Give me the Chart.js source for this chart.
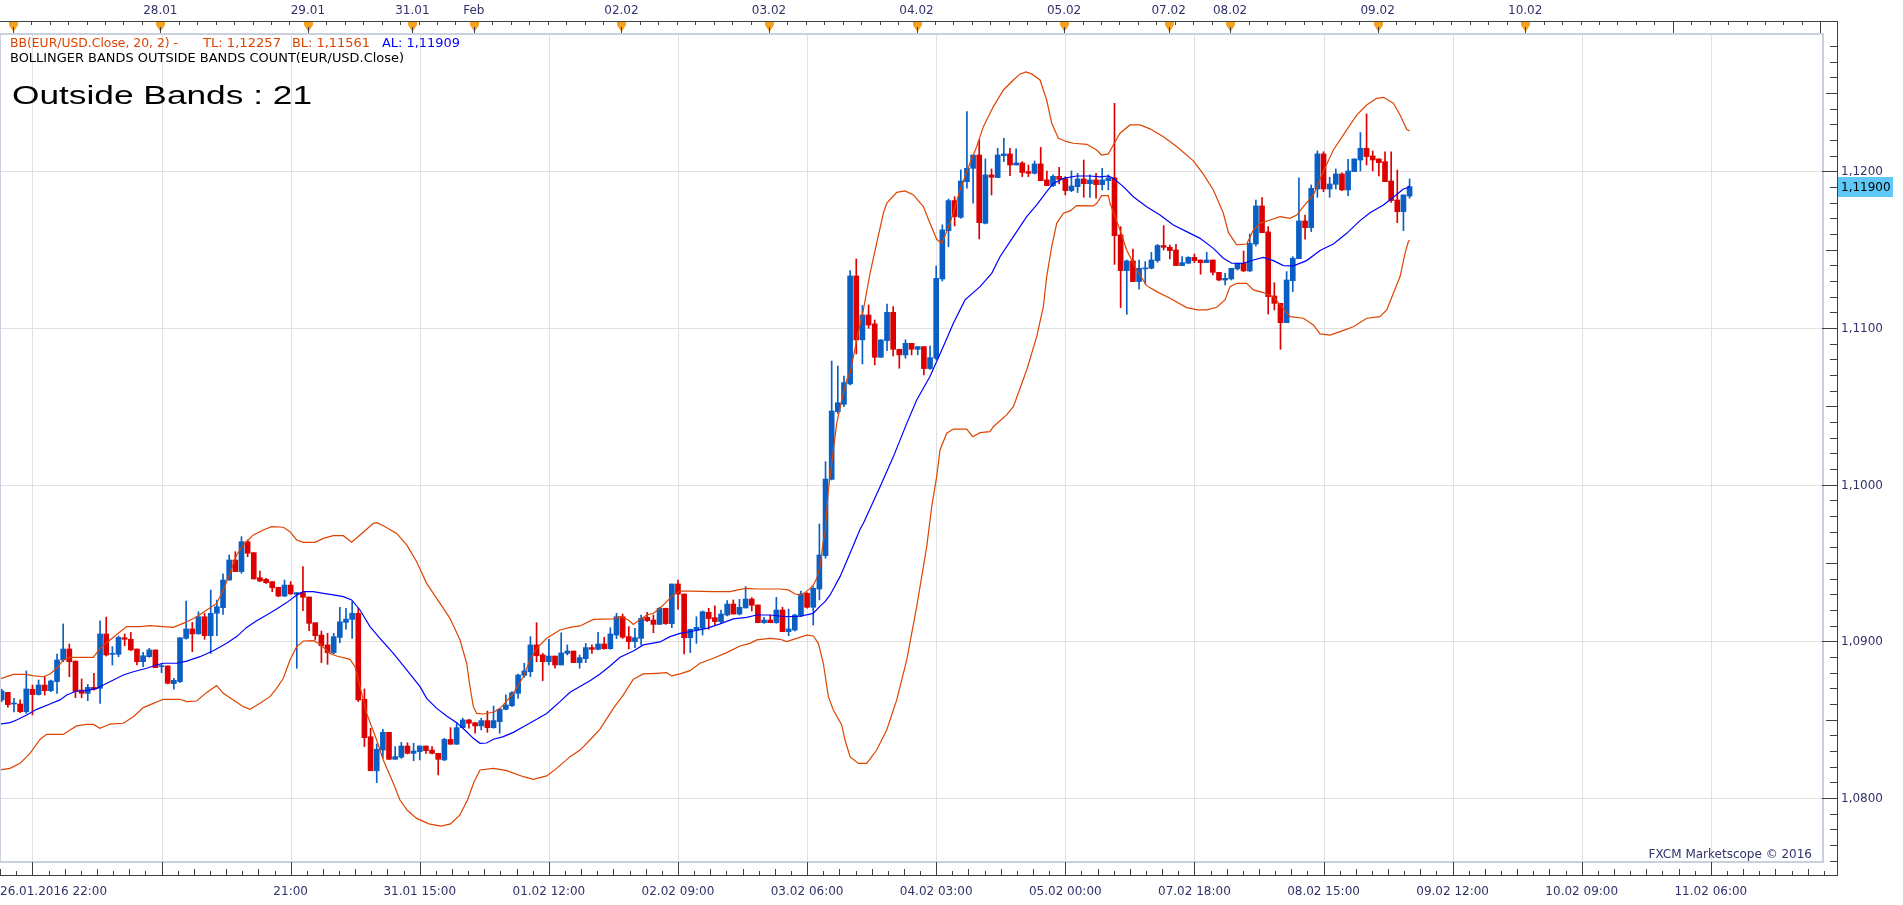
<!DOCTYPE html>
<html><head><meta charset="utf-8">
<script src="https://cdn.jsdelivr.net/npm/chart.js@4.4.1/dist/chart.umd.min.js"></script>
<style>html,body{margin:0;padding:0;background:#fff;overflow:hidden}canvas{display:block}</style>
</head><body>
<canvas id="c" width="1903" height="905"></canvas>
<script>
// ---- data (hourly EUR/USD candles, index = bar number) ----
const opens=[1.08626,1.08674,1.08600,1.08600,1.08551,1.08694,1.08660,1.08721,1.08685,1.08743,1.08881,1.08951,1.08874,1.08689,1.08668,1.08706,1.08700,1.09047,1.08917,1.08917,1.09023,1.09013,1.08951,1.08870,1.08902,1.08945,1.08838,1.08843,1.08730,1.08743,1.09019,1.09079,1.09047,1.09157,1.09036,1.09179,1.09215,1.09391,1.09519,1.09445,1.09636,1.09566,1.09406,1.09396,1.09381,1.09345,1.09289,1.09359,1.09300,1.09311,1.09283,1.09119,1.09040,1.08977,1.08928,1.09025,1.09121,1.09140,1.09179,1.08630,1.08391,1.08174,1.08306,1.08419,1.08247,1.08260,1.08332,1.08285,1.08296,1.08332,1.08306,1.08285,1.08243,1.08374,1.08343,1.08449,1.08498,1.08481,1.08460,1.08494,1.08449,1.08487,1.08566,1.08589,1.08668,1.08783,1.08806,1.08977,1.08913,1.08870,1.08906,1.08849,1.08923,1.08938,1.08864,1.08889,1.08960,1.08949,1.08983,1.08953,1.09040,1.09157,1.09030,1.08998,1.09019,1.09153,1.09136,1.09108,1.09211,1.09113,1.09366,1.09302,1.09023,1.09072,1.09083,1.09185,1.09151,1.09126,1.09168,1.09238,1.09174,1.09213,1.09270,1.09232,1.09119,1.09136,1.09119,1.09200,1.09062,1.09072,1.09162,1.09306,1.09217,1.09334,1.09547,1.10034,1.10466,1.10513,1.10643,1.11332,1.10924,1.11083,1.11026,1.10813,1.10919,1.11100,1.10864,1.10828,1.10902,1.10864,1.10881,1.10741,1.10807,1.11313,1.11621,1.11813,1.11706,1.11934,1.12019,1.12104,1.11668,1.11977,1.11960,1.12100,1.12111,1.12040,1.12053,1.11998,1.11987,1.12047,1.11945,1.11909,1.11968,1.11953,1.11877,1.11902,1.11951,1.11921,1.11945,1.11915,1.11940,1.11958,1.11594,1.11366,1.11428,1.11296,1.11377,1.11381,1.11430,1.11526,1.11515,1.11498,1.11398,1.11413,1.11451,1.11434,1.11417,1.11434,1.11355,1.11306,1.11313,1.11377,1.11413,1.11364,1.11536,1.11779,1.11613,1.11204,1.11157,1.11034,1.11302,1.11442,1.11683,1.11640,1.11887,1.12111,1.11887,1.11917,1.11983,1.11881,1.11998,1.12072,1.12147,1.12098,1.12079,1.12062,1.11938,1.11817,1.11742,1.11842];
const highs=[1.08694,1.08674,1.08636,1.08626,1.08811,1.08721,1.08753,1.08774,1.08753,1.08919,1.09111,1.08983,1.08874,1.08760,1.08725,1.08796,1.09130,1.09155,1.08966,1.09034,1.09047,1.09057,1.08951,1.08930,1.08955,1.08945,1.08860,1.08843,1.08764,1.09023,1.09257,1.09121,1.09189,1.09179,1.09328,1.09264,1.09430,1.09551,1.09572,1.09668,1.09647,1.09566,1.09449,1.09402,1.09381,1.09345,1.09391,1.09381,1.09311,1.09477,1.09283,1.09119,1.09066,1.09051,1.09051,1.09217,1.09211,1.09253,1.09211,1.08696,1.08445,1.08345,1.08438,1.08419,1.08328,1.08355,1.08353,1.08349,1.08332,1.08332,1.08328,1.08285,1.08381,1.08449,1.08481,1.08509,1.08502,1.08481,1.08509,1.08555,1.08587,1.08572,1.08658,1.08679,1.08791,1.08860,1.09030,1.09119,1.08923,1.09013,1.08906,1.09055,1.08977,1.08938,1.08913,1.08987,1.08977,1.09057,1.09026,1.09087,1.09179,1.09174,1.09094,1.09083,1.09168,1.09185,1.09168,1.09217,1.09211,1.09366,1.09391,1.09302,1.09077,1.09157,1.09194,1.09211,1.09226,1.09200,1.09260,1.09264,1.09268,1.09349,1.09279,1.09232,1.09153,1.09168,1.09281,1.09217,1.09206,1.09172,1.09321,1.09311,1.09349,1.09749,1.10147,1.10789,1.10757,1.10693,1.11366,1.11441,1.11143,1.11147,1.11051,1.10924,1.11153,1.11136,1.10864,1.10924,1.10902,1.10881,1.10881,1.10885,1.11396,1.11658,1.11823,1.11838,1.12009,1.12381,1.12104,1.12200,1.12079,1.12015,1.12147,1.12211,1.12147,1.12143,1.12062,1.12040,1.12066,1.12153,1.12002,1.11977,1.12026,1.11966,1.12002,1.11987,1.12072,1.11977,1.11987,1.12019,1.11977,1.12434,1.11647,1.11434,1.11504,1.11434,1.11424,1.11483,1.11534,1.11653,1.11530,1.11534,1.11455,1.11455,1.11472,1.11434,1.11483,1.11434,1.11355,1.11349,1.11381,1.11413,1.11491,1.11600,1.11817,1.11832,1.11647,1.11289,1.11157,1.11360,1.11455,1.11959,1.11721,1.11913,1.12130,1.12125,1.11962,1.12015,1.11991,1.12076,1.12079,1.12247,1.12366,1.12130,1.12079,1.12125,1.12125,1.12008,1.11849,1.11951];
const lows=[1.08615,1.08579,1.08549,1.08545,1.08540,1.08530,1.08657,1.08657,1.08679,1.08668,1.08870,1.08774,1.08640,1.08640,1.08621,1.08689,1.08604,1.08906,1.08849,1.08902,1.08972,1.08940,1.08849,1.08838,1.08898,1.08832,1.08800,1.08728,1.08694,1.08736,1.09013,1.08934,1.09047,1.09013,1.08923,1.09036,1.09172,1.09391,1.09445,1.09434,1.09540,1.09398,1.09381,1.09370,1.09317,1.09285,1.09285,1.09300,1.08828,1.09196,1.09068,1.09008,1.08864,1.08853,1.08921,1.08991,1.09077,1.09019,1.08615,1.08328,1.08174,1.08098,1.08253,1.08247,1.08247,1.08253,1.08281,1.08238,1.08243,1.08285,1.08281,1.08147,1.08238,1.08343,1.08343,1.08449,1.08445,1.08413,1.08434,1.08419,1.08445,1.08413,1.08562,1.08583,1.08636,1.08770,1.08774,1.08870,1.08749,1.08849,1.08828,1.08849,1.08913,1.08864,1.08828,1.08864,1.08923,1.08945,1.08949,1.08949,1.09017,1.09019,1.08951,1.08960,1.08977,1.09126,1.09055,1.09108,1.09108,1.09087,1.09204,1.08919,1.08928,1.08987,1.09040,1.09077,1.09104,1.09115,1.09162,1.09174,1.09168,1.09213,1.09194,1.09119,1.09115,1.09119,1.09115,1.09062,1.09036,1.09066,1.09157,1.09211,1.09104,1.09264,1.09530,1.10030,1.10455,1.10498,1.10636,1.10834,1.10770,1.10998,1.10764,1.10813,1.10855,1.10821,1.10743,1.10807,1.10828,1.10828,1.10700,1.10736,1.10796,1.11300,1.11519,1.11651,1.11700,1.11892,1.11796,1.11568,1.11664,1.11849,1.11960,1.12062,1.11972,1.12040,1.11966,1.11966,1.11983,1.11940,1.11909,1.11902,1.11919,1.11849,1.11870,1.11864,1.11834,1.11834,1.11828,1.11881,1.11881,1.11406,1.11130,1.11087,1.11296,1.11247,1.11281,1.11377,1.11419,1.11498,1.11441,1.11398,1.11398,1.11413,1.11417,1.11343,1.11417,1.11338,1.11302,1.11275,1.11306,1.11370,1.11360,1.11360,1.11523,1.11608,1.11089,1.11115,1.10864,1.11034,1.11232,1.11442,1.11566,1.11615,1.11834,1.11870,1.11834,1.11887,1.11877,1.11845,1.11998,1.12002,1.12040,1.12002,1.11970,1.11934,1.11802,1.11672,1.11621,1.11828];
const closes=[1.08683,1.08596,1.08604,1.08551,1.08696,1.08660,1.08721,1.08685,1.08747,1.08881,1.08951,1.08870,1.08679,1.08668,1.08706,1.08694,1.09047,1.08913,1.08923,1.09025,1.09013,1.08945,1.08870,1.08908,1.08945,1.08832,1.08843,1.08732,1.08751,1.09023,1.09079,1.09047,1.09157,1.09036,1.09179,1.09221,1.09391,1.09519,1.09445,1.09636,1.09562,1.09398,1.09385,1.09374,1.09342,1.09289,1.09359,1.09302,1.09311,1.09281,1.09115,1.09036,1.08972,1.08928,1.09030,1.09125,1.09142,1.09179,1.08626,1.08385,1.08174,1.08311,1.08419,1.08247,1.08264,1.08332,1.08285,1.08300,1.08332,1.08302,1.08285,1.08247,1.08374,1.08343,1.08449,1.08498,1.08477,1.08460,1.08494,1.08449,1.08494,1.08566,1.08594,1.08672,1.08785,1.08811,1.08977,1.08908,1.08870,1.08906,1.08849,1.08926,1.08938,1.08864,1.08896,1.08960,1.08949,1.08983,1.08953,1.09047,1.09157,1.09026,1.08998,1.09023,1.09147,1.09132,1.09108,1.09211,1.09113,1.09366,1.09302,1.09023,1.09077,1.09089,1.09189,1.09145,1.09126,1.09174,1.09238,1.09174,1.09217,1.09270,1.09230,1.09119,1.09136,1.09119,1.09200,1.09062,1.09079,1.09168,1.09302,1.09217,1.09338,1.09551,1.10036,1.10470,1.10523,1.10651,1.11332,1.10924,1.11083,1.11019,1.10813,1.10924,1.11100,1.10864,1.10828,1.10902,1.10864,1.10881,1.10741,1.10811,1.11317,1.11626,1.11813,1.11711,1.11938,1.12019,1.12104,1.11672,1.11977,1.11962,1.12104,1.12111,1.12040,1.12053,1.11992,1.11987,1.12047,1.11940,1.11909,1.11968,1.11949,1.11877,1.11906,1.11951,1.11921,1.11945,1.11915,1.11945,1.11958,1.11589,1.11366,1.11428,1.11296,1.11381,1.11381,1.11434,1.11526,1.11515,1.11494,1.11398,1.11417,1.11451,1.11430,1.11417,1.11434,1.11355,1.11306,1.11317,1.11381,1.11413,1.11364,1.11540,1.11779,1.11608,1.11200,1.11157,1.11034,1.11306,1.11445,1.11683,1.11640,1.11891,1.12111,1.11887,1.11919,1.11983,1.11881,1.12002,1.12079,1.12147,1.12094,1.12072,1.12055,1.11934,1.11813,1.11742,1.11849,1.11902];

// Bollinger bands (20, 2): [bar, value]
const upperBand=[[-0.28,1.08760],[1.89,1.08789],[4.06,1.08789],[4.98,1.08781],[6.77,1.08774],[7.86,1.08791],[8.94,1.08828],[10.02,1.08881],[11.11,1.08898],[14.91,1.08898],[15.99,1.08955],[17.62,1.09008],[18.97,1.09051],[20.33,1.09094],[22.49,1.09094],[24.12,1.09100],[27.92,1.09089],[29.81,1.09119],[31.71,1.09157],[33.34,1.09200],[34.96,1.09242],[36.05,1.09328],[37.13,1.09434],[38.22,1.09551],[39.30,1.09615],[40.93,1.09679],[42.55,1.09711],[43.91,1.09732],[45.81,1.09728],[46.89,1.09700],[47.98,1.09647],[49.06,1.09632],[50.96,1.09632],[52.31,1.09657],[53.94,1.09674],[55.57,1.09674],[56.92,1.09632],[58.28,1.09679],[59.36,1.09715],[60.45,1.09753],[60.99,1.09757],[62.07,1.09738],[64.24,1.09689],[65.87,1.09615],[67.50,1.09508],[69.12,1.09370],[70.75,1.09274],[72.92,1.09147],[74.55,1.09008],[75.63,1.08860],[76.17,1.08711],[76.71,1.08583],[77.26,1.08540],[78.34,1.08536],[79.97,1.08547],[81.05,1.08572],[81.59,1.08594],[83.22,1.08668],[84.85,1.08774],[85.93,1.08881],[87.02,1.08955],[88.64,1.09019],[90.81,1.09072],[92.44,1.09089],[94.07,1.09098],[96.24,1.09140],[99.49,1.09143],[100.57,1.09157],[101.93,1.09136],[102.74,1.09108],[103.83,1.09140],[104.91,1.09168],[105.99,1.09179],[107.08,1.09211],[108.16,1.09253],[109.25,1.09296],[110.33,1.09321],[111.96,1.09321],[115.76,1.09317],[118.47,1.09317],[120.10,1.09332],[121.18,1.09338],[122.81,1.09334],[126.61,1.09334],[127.96,1.09328],[129.04,1.09302],[129.86,1.09296],[130.67,1.09311],[131.49,1.09338],[132.02,1.09360],[132.57,1.09402],[133.10,1.09477],[133.66,1.09647],[133.92,1.09689],[134.46,1.09966],[135.00,1.10136],[135.82,1.10391],[136.63,1.10540],[137.44,1.10668],[137.99,1.10711],[139.07,1.10924],[140.15,1.11115],[141.24,1.11349],[142.32,1.11541],[143.41,1.11732],[143.95,1.11796],[145.58,1.11866],[146.93,1.11875],[148.29,1.11849],[149.91,1.11775],[150.99,1.11668],[152.08,1.11566],[152.89,1.11541],[153.71,1.11615],[154.79,1.11732],[155.88,1.11881],[157.50,1.12051],[158.59,1.12158],[159.67,1.12285],[161.30,1.12413],[162.93,1.12519],[164.55,1.12583],[165.6,1.12620],[166.6,1.12634],[167.6,1.12620],[168.89,1.12583],[169.97,1.12455],[170.79,1.12306],[171.87,1.12211],[173.23,1.12189],[174.31,1.12179],[176.48,1.12172],[178.10,1.12136],[178.92,1.12104],[180.00,1.12111],[180.81,1.12168],[181.90,1.12243],[183.52,1.12296],[185.15,1.12296],[186.78,1.12271],[188.95,1.12221],[191.11,1.12158],[193.83,1.12067],[195.45,1.11982],[197.08,1.11881],[198.71,1.11732],[199.52,1.11610],[200.88,1.11530],[202.51,1.11536],[203.59,1.11625],[204.67,1.11668],[206.30,1.11689],[207.93,1.11710],[209.55,1.11700],[210.64,1.11721],[211.72,1.11774],[213.35,1.11849],[214.97,1.11998],[216.60,1.12136],[218.77,1.12264],[220.40,1.12359],[222.02,1.12423],[223.65,1.12466],[224.74,1.12472],[226.36,1.12434],[227.45,1.12359],[228.53,1.12268],[229,1.12257]];
const middleBand=[[-0.28,1.08472],[1.35,1.08481],[2.43,1.08498],[4.06,1.08530],[5.69,1.08566],[7.86,1.08600],[9.48,1.08626],[10.57,1.08657],[12.19,1.08683],[13.82,1.08685],[15.45,1.08700],[16.53,1.08721],[18.16,1.08753],[19.78,1.08785],[21.41,1.08806],[23.58,1.08828],[25.20,1.08849],[26.29,1.08860],[28.46,1.08860],[30.09,1.08874],[32.25,1.08902],[34.42,1.08940],[36.59,1.08987],[38.22,1.09030],[39.84,1.09089],[41.47,1.09132],[43.10,1.09168],[44.72,1.09206],[46.35,1.09247],[47.98,1.09296],[49.06,1.09317],[50.69,1.09317],[52.31,1.09306],[53.94,1.09296],[55.57,1.09285],[56.92,1.09264],[58.28,1.09200],[59.90,1.09094],[61.53,1.09019],[63.70,1.08923],[65.87,1.08817],[68.04,1.08711],[69.12,1.08636],[70.75,1.08572],[72.37,1.08523],[74.00,1.08481],[75.63,1.08423],[76.71,1.08381],[77.80,1.08349],[78.88,1.08351],[79.97,1.08375],[81.05,1.08385],[81.59,1.08392],[83.22,1.08419],[84.85,1.08455],[87.02,1.08502],[88.64,1.08540],[90.81,1.08615],[92.44,1.08675],[94.07,1.08711],[95.69,1.08749],[97.32,1.08791],[98.95,1.08843],[100.57,1.08898],[102.74,1.08938],[104.37,1.08977],[107.08,1.08996],[108.70,1.09030],[110.33,1.09051],[112.50,1.09066],[114.67,1.09083],[116.84,1.09111],[119.01,1.09143],[121.18,1.09153],[122.81,1.09168],[124.98,1.09168],[127.69,1.09157],[129.86,1.09160],[131.49,1.09174],[132.02,1.09179],[133.11,1.09225],[133.92,1.09253],[134.74,1.09296],[136.36,1.09413],[137.99,1.09562],[139.62,1.09715],[140.16,1.09753],[142.87,1.09987],[145.04,1.10179],[147.21,1.10391],[148.83,1.10540],[150.99,1.10690],[153.16,1.10881],[154.79,1.11030],[156.69,1.11179],[159.13,1.11264],[161.03,1.11349],[162.38,1.11455],[164.55,1.11583],[166.72,1.11711],[168.35,1.11785],[169.97,1.11870],[171.06,1.11923],[172.69,1.11955],[174.86,1.11970],[177.03,1.11970],[178.65,1.11965],[180.00,1.11970],[180.81,1.11955],[182.44,1.11902],[184.06,1.11838],[186.23,1.11774],[188.40,1.11721],[190.57,1.11657],[192.74,1.11615],[194.91,1.11572],[197.08,1.11508],[198.71,1.11445],[200.06,1.11413],[201.96,1.11413],[203.59,1.11434],[205.22,1.11451],[206.84,1.11430],[208.47,1.11398],[210.09,1.11396],[212.26,1.11430],[214.43,1.11494],[216.60,1.11536],[218.77,1.11604],[220.94,1.11685],[222.56,1.11736],[224.74,1.11785],[226.36,1.11834],[227.99,1.11887],[228.80,1.11896],[229,1.11909]];
const lowerBand=[[-0.28,1.08179],[1.35,1.08189],[2.98,1.08221],[4.60,1.08285],[6.23,1.08374],[7.31,1.08406],[10.02,1.08406],[11.11,1.08434],[12.19,1.08460],[13.82,1.08470],[14.91,1.08470],[15.99,1.08445],[17.62,1.08472],[19.78,1.08477],[21.41,1.08519],[23.03,1.08577],[24.66,1.08604],[26.29,1.08630],[28.99,1.08630],[30.09,1.08615],[31.71,1.08619],[33.34,1.08674],[34.96,1.08717],[36.05,1.08668],[37.68,1.08626],[39.30,1.08583],[40.39,1.08566],[42.01,1.08604],[43.64,1.08647],[44.72,1.08700],[45.81,1.08764],[46.89,1.08881],[47.98,1.08966],[49.06,1.09002],[50.69,1.09004],[51.77,1.08983],[53.40,1.08923],[54.48,1.08906],[56.65,1.08885],[57.47,1.08838],[58.28,1.08711],[59.36,1.08540],[60.99,1.08370],[62.07,1.08243],[63.70,1.08094],[64.78,1.07987],[66.0,1.07920],[67.5,1.07870],[69.5,1.07835],[71.5,1.07820],[73.0,1.07835],[74.5,1.07890],[75.8,1.07990],[76.8,1.08100],[77.80,1.08179],[79.97,1.08189],[82.14,1.08175],[84.85,1.08136],[86.47,1.08119],[88.64,1.08141],[90.27,1.08189],[92.44,1.08264],[94.07,1.08306],[95.69,1.08370],[97.32,1.08440],[99.49,1.08572],[101.11,1.08658],[102.74,1.08758],[104.37,1.08792],[106.53,1.08796],[108.16,1.08800],[108.98,1.08779],[110.33,1.08792],[111.96,1.08813],[113.58,1.08860],[115.75,1.08892],[117.92,1.08928],[120.09,1.08970],[121.72,1.08987],[122.81,1.09009],[124.98,1.09019],[126.61,1.09013],[127.69,1.08998],[129.31,1.09019],[130.94,1.09040],[132.02,1.09034],[132.83,1.08987],[133.64,1.08860],[134.46,1.08647],[135.27,1.08562],[136.63,1.08466],[137.17,1.08370],[137.99,1.08264],[139.34,1.08221],[140.70,1.08221],[142.32,1.08306],[143.95,1.08434],[145.58,1.08626],[147.21,1.08881],[148.83,1.09221],[150.46,1.09604],[151.27,1.09860],[152.08,1.10051],[152.62,1.10221],[153.71,1.10328],[154.79,1.10355],[156.96,1.10355],[157.93,1.10306],[159.13,1.10332],[160.75,1.10338],[161.29,1.10370],[163.46,1.10445],[164.55,1.10498],[166.72,1.10732],[168.35,1.10945],[169.43,1.11136],[169.97,1.11328],[170.79,1.11519],[171.60,1.11668],[172.69,1.11732],[173.77,1.11747],[174.86,1.11781],[177.57,1.11779],[178.11,1.11796],[178.92,1.11845],[180.00,1.11845],[180.27,1.11796],[180.81,1.11740],[181.90,1.11625],[182.98,1.11498],[184.61,1.11370],[186.23,1.11270],[187.86,1.11232],[190.03,1.11190],[192.74,1.11130],[194.5,1.11115],[196.00,1.11115],[197.62,1.11132],[198.98,1.11179],[199.79,1.11264],[200.88,1.11285],[202.51,1.11285],[203.59,1.11243],[205.22,1.11226],[206.84,1.11200],[209.55,1.11072],[211.72,1.11062],[213.35,1.11019],[214.43,1.10962],[216.06,1.10955],[217.69,1.10977],[219.86,1.11008],[222.02,1.11062],[224.19,1.11072],[225.28,1.11115],[226.36,1.11221],[227.45,1.11328],[228.26,1.11476],[228.80,1.11551],[229,1.11561]];

// axis labels
const yTickValues=[1.08,1.09,1.10,1.11,1.12];
const bottomLabels=["26.01.2016 22:00","","21:00","31.01 15:00","01.02 12:00","02.02 09:00","03.02 06:00","04.02 03:00","05.02 00:00","07.02 18:00","08.02 15:00","09.02 12:00","10.02 09:00","11.02 06:00"];
const bottomLabelBars=[5,26,47,68,89,110,131,152,173,194,215,236,257,278];
const dayLabels=["","28.01","29.01","31.01","Feb","02.02","03.02","04.02","05.02","07.02","08.02","09.02","10.02","",""];
const dayBars=[1.8,25.8,49.8,66.8,76.8,100.8,124.8,148.8,172.8,189.8,199.8,223.8,247.8,271.8,295.8];
const dayMarked=[1,1,1,1,1,1,1,1,1,1,1,1,1,0,0];
const lastPrice=1.11900;
const legendBB={tl:"1,12257",bl:"1,11561",al:"1,11909"};
const outsideCount=21;

// ---- styling ----
const UP='#0a5fc4', DN='#dc0000', BAND='#dd4400', MID='#0000ff';
const AXIS_TXT='#31316b', AXIS_LINE='#404040', GRID='#e1e1e1', FRAME='#c8d1dd';

const colors=closes.map((c,i)=>c>=opens[i]?UP:DN);
const wickData=opens.map((o,i)=>({x:i,y:[lows[i],highs[i]]}));
const bodyData=opens.map((o,i)=>({x:i,y:[Math.min(o,closes[i]),Math.max(o,closes[i])]}));
const toXY=a=>a.map(p=>({x:p[0],y:p[1]}));
const fmt=v=>v.toFixed(4).replace('.',',');

function fitText(ctx,text,x,y,w,font,color){
  ctx.save();ctx.font=font;ctx.fillStyle=color;ctx.textBaseline='middle';ctx.textAlign='left';
  const m=ctx.measureText(text).width;ctx.translate(x,y);ctx.scale(w/m,1);ctx.fillText(text,0,0);ctx.restore();
}

const decor={
  id:'decor',
  beforeDatasetsDraw(chart){
    const {ctx,chartArea:a,scales:{x,y}}=chart;
    ctx.save();ctx.fillStyle=GRID;
    bottomLabelBars.forEach(b=>{const X=Math.round(x.getPixelForValue(b));ctx.fillRect(X,a.top,1,a.bottom-a.top);});
    yTickValues.forEach(v=>{const Y=Math.round(y.getPixelForValue(v));ctx.fillRect(a.left,Y,a.right-a.left,1);});
    ctx.restore();
  },
  afterDatasetsDraw(chart){
    const {ctx,chartArea:a,scales:{x,y}}=chart;
    ctx.save();
    // frame
    ctx.fillStyle=FRAME;
    ctx.fillRect(0,a.top-1,a.right+2,2);
    ctx.fillRect(a.right,a.top-1,2,a.bottom-a.top+2);
    ctx.fillRect(0,a.bottom-1,a.right+2,2);
    ctx.fillRect(0,a.top-1,1,a.bottom-a.top+2);
    // axes lines
    const axX=1837, topY=21, botY=875;
    ctx.fillStyle=AXIS_LINE;
    ctx.fillRect(0,topY,axX+1,1);
    ctx.fillRect(0,botY,axX+1,1);
    ctx.fillRect(axX,topY,1,botY-topY+1);
    // top minor ticks every 3 bars
    for(let b=1.8-3;b<=297;b+=3){const X=Math.round(x.getPixelForValue(b));if(X<0||X>axX)continue;ctx.fillRect(X,topY,1,4);}
    // bottom minor ticks
    for(let m=-2;m<=114;m++){const b=5+m*21/8;const X=Math.round(x.getPixelForValue(b));if(X<0||X>axX)continue;
      const len=(m%8===0)?13:((m%2===0)?6:4);ctx.fillRect(X,botY-len,1,len);}
    // right axis ticks
    for(let k=1076;k<=1128;k++){const v=k/1000;const Y=Math.round(y.getPixelForValue(v));if(Y<a.top||Y>a.bottom)continue;
      const len=(k%10===0)?15:((k%5===0)?11:7);ctx.fillRect(axX-len,Y,len,1);}
    // day markers
    dayBars.forEach((b,i)=>{const X=Math.round(x.getPixelForValue(b));if(X>axX)return;
      ctx.fillStyle=AXIS_LINE;ctx.fillRect(X,topY,1,12);
      if(dayMarked[i]){ctx.fillStyle='#f5a21e';ctx.beginPath();ctx.moveTo(X-4,topY+1);ctx.lineTo(X+5,topY+1);ctx.lineTo(X+5,topY+4);ctx.lineTo(X+0.5,topY+11);ctx.lineTo(X-4,topY+4);ctx.closePath();ctx.fill();
        ctx.fillStyle=AXIS_LINE;ctx.fillRect(X,topY+6,1,6);}
    });
    // labels
    ctx.font="12px 'DejaVu Sans'";ctx.fillStyle=AXIS_TXT;ctx.textBaseline='middle';ctx.textAlign='center';
    dayBars.forEach((b,i)=>{if(!dayLabels[i])return;ctx.fillText(dayLabels[i],x.getPixelForValue(b),11);});
    bottomLabels.forEach((t,i)=>{if(!t)return;const X=x.getPixelForValue(bottomLabelBars[i]);
      if(i===0){ctx.textAlign='left';ctx.fillText(t,0,892);ctx.textAlign='center';}else ctx.fillText(t,X,892);});
    ctx.textAlign='left';
    yTickValues.forEach(v=>{ctx.fillText(fmt(v),1841,Math.round(y.getPixelForValue(v))+1);});
    // last price box
    const pY=Math.round(y.getPixelForValue(lastPrice));
    ctx.fillStyle='#5fc8f7';ctx.fillRect(axX+1,pY-10,55,20);
    ctx.fillStyle='#000';ctx.fillText(lastPrice.toFixed(5).replace('.',','),1841,pY+1);
    // watermark
    ctx.fillStyle=AXIS_TXT;ctx.textAlign='right';ctx.fillText('FXCM Marketscope \u00a9 2016',1812,855);
    ctx.restore();
    // legends
    const F="12px 'DejaVu Sans'";
    fitText(ctx,'BB(EUR/USD.Close, 20, 2) -',10,44,168,F,BAND);
    fitText(ctx,'TL: '+legendBB.tl,203,44,78,F,BAND);
    fitText(ctx,'BL: '+legendBB.bl,292,44,78,F,BAND);
    fitText(ctx,'AL: '+legendBB.al,382,44,78,F,'#0000ff');
    fitText(ctx,'BOLLINGER BANDS OUTSIDE BANDS COUNT(EUR/USD.Close)',10,59,394,F,'#000');
    fitText(ctx,'Outside Bands : '+outsideCount,12,97,300,"25px 'Liberation Sans'",'#000');
  }
};

Chart.defaults.font.family="'DejaVu Sans'";
new Chart(document.getElementById('c').getContext('2d'),{
  type:'bar',
  data:{datasets:[
    {type:'line',data:toXY(upperBand),borderColor:BAND,borderWidth:1.2,pointRadius:0,tension:0,order:0},
    {type:'line',data:toXY(lowerBand),borderColor:BAND,borderWidth:1.2,pointRadius:0,tension:0,order:0},
    {type:'line',data:toXY(middleBand),borderColor:MID,borderWidth:1.2,pointRadius:0,tension:0,order:0},
    {type:'bar',data:bodyData,backgroundColor:colors,barThickness:5,minBarLength:1,grouped:false,order:1,borderWidth:0},
    {type:'bar',data:wickData,backgroundColor:colors,barThickness:1,grouped:false,order:2,borderWidth:0}
  ]},
  options:{
    responsive:false,animation:false,devicePixelRatio:1,
    layout:{padding:{left:0,top:34,right:81,bottom:43}},
    plugins:{legend:{display:false},tooltip:{enabled:false}},
    scales:{
      x:{type:'linear',min:-0.2765,max:296.08,display:false,offset:false},
      y:{type:'linear',min:1.075915,max:1.128763,display:false}
    }
  },
  plugins:[decor]
});
</script>
</body></html>
